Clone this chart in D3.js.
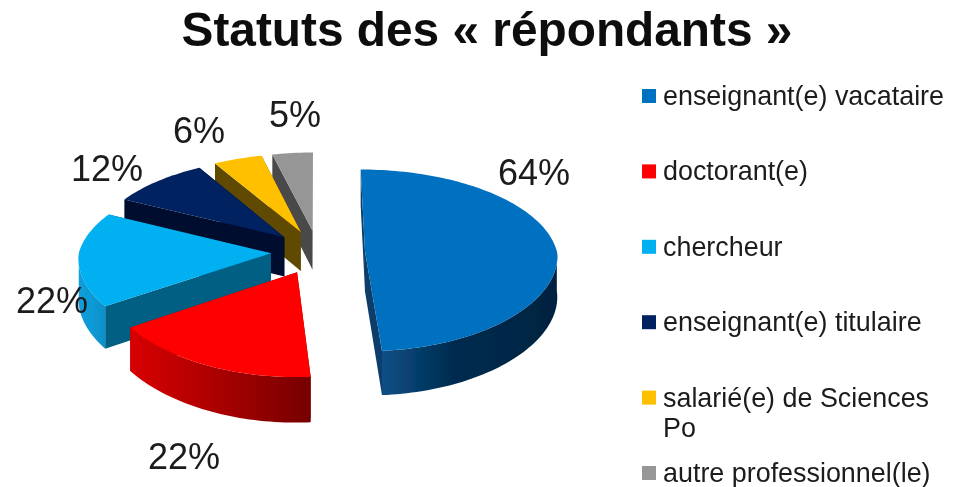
<!DOCTYPE html>
<html lang="fr">
<head>
    <meta charset="UTF-8">
    <title>Statuts des « répondants »</title>
    <script src="https://cdnjs.cloudflare.com/ajax/libs/d3/7.8.5/d3.min.js"></script>
    <style>
        html, body { margin: 0; padding: 0; background: #fff; }
        svg { display: block; font-family: "Liberation Sans", Arial, sans-serif; }
    </style>
</head>
<body>
    <div id="chart"></div>
    <script>
    const categories = ['enseignant(e) vacataire', 'doctorant(e)', 'chercheur', 'enseignant(e) titulaire', 'salarié(e) de Sciences Po', 'autre professionnel(le)'];
    const values = [64, 22, 22, 12, 6, 5];
    const topColors = ['#0070c0', '#ff0000', '#00b0f0', '#002060', '#ffc000', '#969696'];
    const sideColors = ['#0a3d68', '#8e0000', '#005f82', '#000c2e', '#614a04', '#4a4a4a'];
    // left, middle and right colour of the curved outer wall
    const wallColors = [['#0c4f86', '#002c50', '#00233f'], ['#d80000', '#a80000', '#760000'], ['#129ddb', '#109ad6', '#0f8fc8'], ['#000c2e', '#000c2e', '#000c2e'], ['#614a04', '#614a04', '#614a04'], ['#4a4a4a', '#4a4a4a', '#4a4a4a']];
    // data labels were placed by hand in the original
    const labelPos = [[534, 172], [184, 456], [52, 300], [107, 168], [199, 130], [295, 114]];

    const width = 959, height = 487;
    const cx = 318, cy = 252;      // pie centre
    const rx = 192, ry = 90;       // radii of the tilted disc
    const explode = 0.245;         // slice offset, in radii
    const persp = 0.1;             // front of the pie looks bigger
    const depth = 40;

    const svg = d3.select("#chart").append("svg")
        .attr("width", width)
        .attr("height", height);

    const defs = svg.append("defs");
    defs.append("filter").attr("id", "soft")
        .attr("x", 0).attr("y", 0).attr("width", 1).attr("height", 1)
        .attr("filterUnits", "objectBoundingBox")
        .append("feGaussianBlur").attr("stdDeviation", 0.6);

    const root = svg.append("g").attr("filter", "url(#soft)");
    root.append("rect").attr("width", width).attr("height", height).attr("fill", "#fff");

    // plane coordinates to screen, z = 1 is the bottom of the pie
    function project(X, Y, z) {
        const w = 1 / (1 - persp * Y);
        // horizontal growth is weaker at the front
        const wx = Y > 0 ? 1 / (1 - persp * 0.5 * Y) : w;
        return [cx + rx * X * wx, cy + ry * Y * w + z * depth * w];
    }

    const pie = d3.pie().sort(null).value(d => d);
    const slices = pie(values);
    const line = d3.line();

    // back slices first, the biggest one is drawn last
    const order = [5, 4, 3, 2, 1, 0];

    order.forEach(i => {
        const s = slices[i];
        const mid = (s.startAngle + s.endAngle) / 2;
        const ox = Math.sin(mid) * explode, oy = -Math.cos(mid) * explode;
        const rim = (a, z) => project(ox + Math.sin(a), oy - Math.cos(a), z);
        const apex = z => project(ox, oy, z);

        const steps = Math.max(8, Math.round((s.endAngle - s.startAngle) * 40));
        const angles = d3.range(steps + 1).map(k => s.startAngle + (s.endAngle - s.startAngle) * k / steps);
        const g = root.append("g");

        // cut faces
        [s.startAngle, s.endAngle].forEach(a => {
            g.append("path")
                .attr("d", line([apex(0), rim(a, 0), rim(a, 1), apex(1)]) + "Z")
                .attr("fill", sideColors[i]);
        });

        // outer wall, only the part that faces the viewer
        const front = angles.filter(a => Math.cos(a) <= 0);
        if (front.length > 1) {
            const top = front.map(a => rim(a, 0));
            const bottom = front.map(a => rim(a, 1)).reverse();
            const xs = d3.extent(top, p => p[0]);
            const grad = defs.append("linearGradient")
                .attr("id", "wall" + i)
                .attr("gradientUnits", "userSpaceOnUse")
                .attr("x1", xs[0]).attr("x2", xs[1])
                .attr("y1", 0).attr("y2", 0);
            grad.append("stop").attr("offset", 0).attr("stop-color", wallColors[i][0]);
            grad.append("stop").attr("offset", i === 0 ? 0.4 : 0.5).attr("stop-color", wallColors[i][1]);
            grad.append("stop").attr("offset", 1).attr("stop-color", wallColors[i][2]);
            g.append("path")
                .attr("d", line(top.concat(bottom)) + "Z")
                .attr("fill", `url(#wall${i})`);
        }

        // top face
        g.append("path")
            .attr("d", line([apex(0)].concat(angles.map(a => rim(a, 0)))) + "Z")
            .attr("fill", topColors[i]);
    });

    // Title
    root.append("text")
        .attr("x", 487)
        .attr("y", 46)
        .attr("text-anchor", "middle")
        .attr("font-size", 47.8)
        .attr("font-weight", "bold")
        .attr("fill", "#111")
        .text("Statuts des « répondants »");

    // Data labels
    root.selectAll(".pct")
        .data(values)
        .enter().append("text")
        .attr("class", "pct")
        .attr("x", (d, i) => labelPos[i][0])
        .attr("y", (d, i) => labelPos[i][1])
        .attr("dy", ".35em")
        .attr("text-anchor", "middle")
        .attr("font-size", 36)
        .attr("fill", "#1a1a1a")
        .text(d => d + "%");

    // Legend
    const legendY = d3.scalePoint().domain(categories).range([96, 473]);
    const legend = root.selectAll(".legend")
        .data(categories)
        .enter().append("g")
        .attr("class", "legend")
        .attr("transform", d => `translate(642,${legendY(d)})`);

    legend.append("rect")
        .attr("y", -7)
        .attr("width", 14)
        .attr("height", 14)
        .attr("fill", (d, i) => topColors[i]);

    legend.append("text")
        .attr("x", 21)
        .attr("y", 9)
        .attr("font-size", 26.9)
        .attr("fill", "#1a1a1a")
        .each(function(d) {
            // wrap like the legend box does
            const el = d3.select(this);
            const words = d.split(" ");
            let row = [];
            let span = el.append("tspan").attr("x", 21);
            words.forEach(word => {
                row.push(word);
                span.text(row.join(" "));
                if (span.node().getComputedTextLength() > 290 && row.length > 1) {
                    row.pop();
                    span.text(row.join(" "));
                    row = [word];
                    span = el.append("tspan").attr("x", 21).attr("dy", 30).text(word);
                }
            });
        });
    </script>
</body>
</html>
